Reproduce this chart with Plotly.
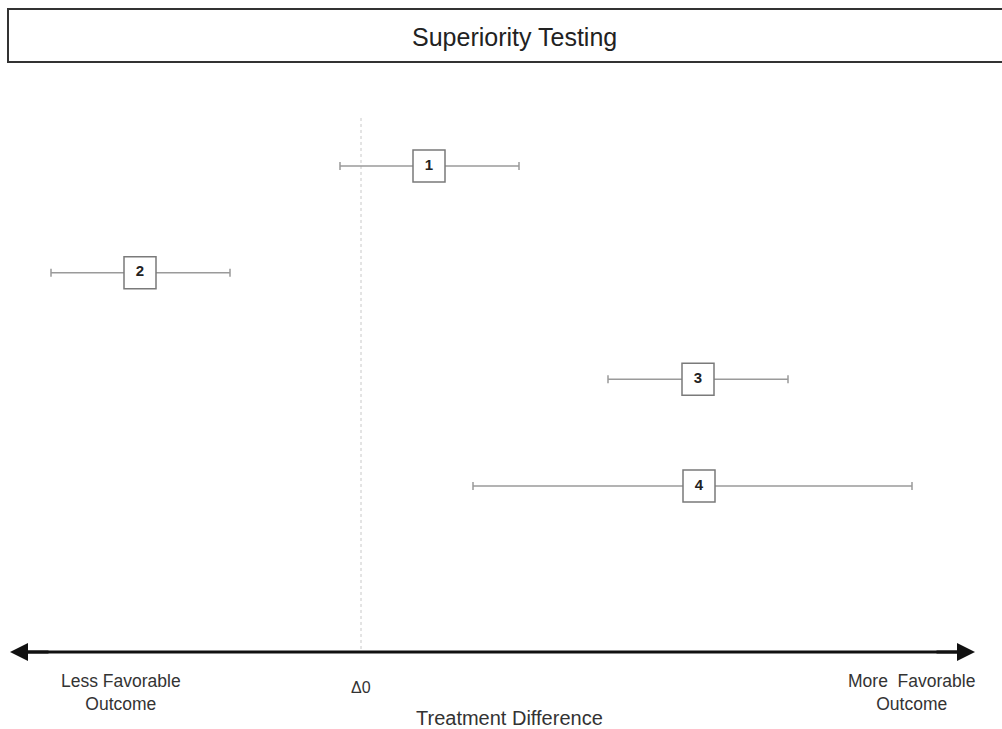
import plotly.graph_objects as go

# Data (treatment difference units, Δ0 = 0)
studies = ["1", "2", "3", "4"]
y_pos = [1, 2, 3, 4]
estimate = [0.68, -2.21, 3.37, 3.38]
ci_low = [-0.21, -3.10, 2.47, 1.12]
ci_high = [1.58, -1.31, 4.27, 5.51]

err_plus = [h - e for h, e in zip(ci_high, estimate)]
err_minus = [e - l for e, l in zip(estimate, ci_low)]

W, H = 1002, 729
X_RANGE = [-3.61, 6.41]
Y_RANGE = [6.278, -0.556]

FONT = "Liberation Sans, Arial, sans-serif"
GRAY = "#9a9a9a"
TXT = "#333333"

fig = go.Figure()

fig.add_trace(go.Scatter(
    x=estimate, y=y_pos, mode="markers+text", text=studies,
    textposition="middle center",
    textfont=dict(family=FONT, size=15, color="#222222", weight="bold"),
    marker=dict(symbol="square", size=32, color="white",
                line=dict(color="#7a7a7a", width=1.5)),
    error_x=dict(type="data", symmetric=False, array=err_plus, arrayminus=err_minus,
                 color=GRAY, thickness=1.5, width=4),
    showlegend=False, hoverinfo="skip",
))

# vertical dotted reference line at Δ0
fig.add_shape(type="line", x0=0, x1=0, y0=0.55, y1=5.54, xref="x", yref="y",
              line=dict(color="#c8c8c8", width=1, dash="dot"), layer="below")

# horizontal double arrow: body line + two heads
arrow_y = 5.556
left_tip, right_tip = -3.51, 6.14
fig.add_shape(type="line", x0=left_tip + 0.1, x1=right_tip - 0.1, y0=arrow_y, y1=arrow_y,
              xref="x", yref="y", line=dict(color="#111111", width=3))
for tip, tail in [(left_tip, left_tip + 0.4), (right_tip, right_tip - 0.4)]:
    fig.add_annotation(x=tip, y=arrow_y, ax=tail, ay=arrow_y, xref="x", yref="y",
                       axref="x", ayref="y", showarrow=True, arrowhead=2,
                       arrowsize=1.2, arrowwidth=3, arrowcolor="#111111", text="")

# axis texts
fig.add_annotation(x=(121 - 361) / 100, y=arrow_y + 0.38, xref="x", yref="y",
                   text="Less Favorable<br>Outcome", showarrow=False,
                   font=dict(family=FONT, size=17.5, color=TXT), align="center")
fig.add_annotation(x=0, y=arrow_y + 0.33, xref="x", yref="y", text="Δ0",
                   showarrow=False, font=dict(family=FONT, size=16, color=TXT))
fig.add_annotation(x=(911 - 361) / 100, y=arrow_y + 0.38, xref="x", yref="y",
                   text="More  Favorable<br>Outcome", showarrow=False,
                   font=dict(family=FONT, size=17.5, color=TXT), align="center")
fig.add_annotation(x=(509 - 361) / 100, y=arrow_y + 0.62, xref="x", yref="y",
                   text="Treatment Difference", showarrow=False,
                   font=dict(family=FONT, size=20, color=TXT))

# title box (right edge runs off the canvas)
fig.add_shape(type="rect", xref="paper", yref="paper",
              x0=8 / W, x1=1.01, y0=1 - 62 / H, y1=1 - 9 / H,
              line=dict(color="#333333", width=2), fillcolor="white")
fig.add_annotation(xref="paper", yref="paper", x=514 / W, y=1 - 37 / H,
                   xanchor="center", yanchor="middle",
                   text="Superiority Testing", showarrow=False,
                   font=dict(family=FONT, size=25, color="#222222"))

fig.update_xaxes(range=X_RANGE, visible=False, fixedrange=True)
fig.update_yaxes(range=Y_RANGE, visible=False, fixedrange=True)
fig.update_layout(width=W, height=H, margin=dict(l=0, r=0, t=0, b=0),
                  paper_bgcolor="white", plot_bgcolor="white")

fig.write_html("out.html", config={"displayModeBar": False},
               post_script="document.body.style.margin='0';document.body.style.overflow='hidden';")
